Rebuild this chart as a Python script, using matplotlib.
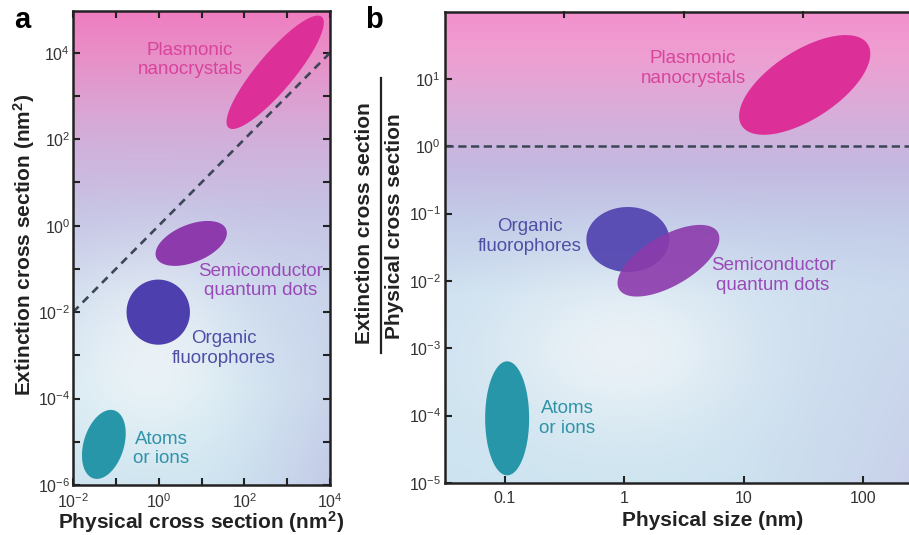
import numpy as np
import matplotlib
matplotlib.use('Agg')
import matplotlib.pyplot as plt
from matplotlib.lines import Line2D
from matplotlib.ticker import FixedLocator, FuncFormatter, NullFormatter

plt.rcParams['font.family'] = ['Liberation Sans', 'DejaVu Sans']
plt.rcParams['mathtext.fontset'] = 'custom'
plt.rcParams['mathtext.rm'] = 'Liberation Sans'
plt.rcParams['mathtext.it'] = 'Liberation Sans:italic'
plt.rcParams['mathtext.bf'] = 'Liberation Sans:bold'

# --- data -------------------------------------------------------------
names = ['Plasmonic\nnanocrystals', 'Semiconductor\nquantum dots',
         'Organic\nfluorophores', 'Atoms\nor ions']
fill_colors = ['#dd2f98', '#8c3aac', '#4e3fae', '#2696a8']
text_colors = ['#d8449c', '#9a4ab8', '#4f4fa5', '#3093a8']

# panel a: log10 centre (physical, extinction cross section), spread in decades
a_logx = [2.72, 0.76, -0.01, -1.28]
a_logy = [3.55, -0.41, -2.0, -5.06]
a_major = [1.69, 0.88, 0.76, 0.83]
a_minor = [0.43, 0.44, 0.74, 0.47]
a_tilt = [50, 22, 90, 73]
a_label_x = [5.4, 234, 33.5, 1.14]
a_label_y = [6900, 0.052, 1.45e-3, 6.8e-6]

# panel b: log10 centre (physical size, extinction / physical cross section)
b_logx = [1.51, 0.37, 0.03, -0.98]
b_logy = [0.91, -1.70, -1.385, -4.04]
b_major = [0.628, 0.477, 0.347, 0.477]
b_minor = [0.285, 0.21, 0.272, 0.184]
b_tilt = [33, 30, 0, 90]
b_label_x = [3.76, 17.6, 0.1626, 0.332]
b_label_y = [14.3, 0.0121, 0.0459, 9.0e-5]

a_xlim = (1e-2, 1e4)
a_ylim = (1e-6, 10 ** 4.98)
b_xlim = (10 ** -1.5, 10 ** 2.408)
b_ylim = (1e-5, 1e2)
b_xticks = [0.1, 1, 10, 100]
b_xticklabels = ['0.1', '1', '10', '100']
b_top_ticks = [10 ** -0.5, 10 ** 0.5, 10 ** 1.5]

W, H = 909, 535
fig = plt.figure(figsize=(W / 100, H / 100), dpi=100)
fig.patch.set_facecolor('white')

pos_a = [73 / W, (H - 485) / H, 257 / W, 474.5 / H]
pos_b = [445 / W, (H - 483) / H, 467 / W, 471.5 / H]


def backdrop(pos, stops, glow, side):
    ny, nx = 300, 300
    yy = np.linspace(0, 1, ny)[:, None] * np.ones((1, nx))
    xx = np.ones((ny, 1)) * np.linspace(0, 1, nx)[None, :]
    st = np.array([s[0] for s in stops])
    img = np.zeros((ny, nx, 3))
    for c in range(3):
        img[:, :, c] = np.interp(yy, st, [s[1][c] for s in stops])
    gx, gy, sx, sy, gs = glow
    w = gs * np.exp(-((xx - gx) ** 2 / sx ** 2 + (yy - gy) ** 2 / sy ** 2))
    img = img * (1 - w[..., None]) + 250 * w[..., None]
    tint, tw = side
    ws = tw * np.clip((xx - 0.5) / 0.5, 0, 1) ** 1.5 * np.clip((yy - 0.3) / 0.7, 0, 1)
    img = img * (1 - ws[..., None]) + np.array(tint)[None, None, :] * ws[..., None]
    bg = fig.add_axes(pos, zorder=0)
    bg.imshow(np.clip(img, 0, 255).astype(np.uint8), extent=[0, 1, 0, 1], aspect='auto',
              interpolation='bilinear')
    bg.axis('off')


backdrop(pos_a,
         [(0, (240, 125, 192)), (0.1, (232, 145, 200)), (0.27, (210, 175, 218)),
          (0.42, (198, 195, 228)), (0.6, (205, 220, 238)), (0.8, (212, 233, 242)),
          (1, (205, 228, 240))],
         (0.3, 0.73, 0.32, 0.2, 0.6), ((192, 192, 228), 0.7))
backdrop(pos_b,
         [(0, (243, 145, 205)), (0.1, (238, 160, 210)), (0.25, (210, 178, 220)),
          (0.33, (195, 185, 225)), (0.45, (195, 205, 232)), (0.6, (205, 225, 240)),
          (1, (205, 228, 240))],
         (0.38, 0.72, 0.28, 0.18, 0.65), ((198, 196, 230), 0.6))

ax_a = fig.add_axes(pos_a, zorder=1)
ax_b = fig.add_axes(pos_b, zorder=1)


def blob(ax, ratio, lx, ly, major, minor, tilt, color, alpha=1.0):
    t = np.linspace(0, 2 * np.pi, 240)
    th = np.radians(tilt)
    dx = major * np.cos(t) * np.cos(th) - minor * np.sin(t) * np.sin(th)
    dy = major * np.cos(t) * np.sin(th) + minor * np.sin(t) * np.cos(th)
    ax.fill(10 ** (lx + dx), 10 ** (ly + dy * ratio), color=color, alpha=alpha,
            lw=0, zorder=2)


def px_per_decade(pos, xlim, ylim):
    kx = pos[2] * W / np.log10(xlim[1] / xlim[0])
    ky = pos[3] * H / np.log10(ylim[1] / ylim[0])
    return kx / ky


def style(ax):
    ax.set_facecolor('none')
    ax.set_xscale('log')
    ax.set_yscale('log')
    for s in ax.spines.values():
        s.set_linewidth(1.8)
        s.set_color('#222222')
    ax.tick_params(which='both', direction='in', length=5, width=1.5, color='#222222',
                   labelsize=11.5, labelcolor='#333333')


# panel a
style(ax_a)
ratio_a = px_per_decade(pos_a, a_xlim, a_ylim)
for i in range(4):
    blob(ax_a, ratio_a, a_logx[i], a_logy[i], a_major[i], a_minor[i], a_tilt[i],
         fill_colors[i])
    ax_a.text(a_label_x[i], a_label_y[i], names[i], color=text_colors[i], fontsize=13.5,
              ha='center', va='center', linespacing=1.2, zorder=3)
ax_a.plot([1e-2, 1e4], [1e-2, 1e4], ls=(0, (3, 2.2)), lw=1.9, color='#3c4656', zorder=2)
ax_a.set_xlim(a_xlim)
ax_a.set_ylim(a_ylim)


def even_pow(v, p):
    k = int(round(np.log10(v)))
    return '$10^{%d}$' % k if k % 2 == 0 else ''


ax_a.xaxis.set_major_locator(FixedLocator([10.0 ** k for k in range(-2, 5)]))
ax_a.yaxis.set_major_locator(FixedLocator([10.0 ** k for k in range(-6, 5)]))
ax_a.xaxis.set_major_formatter(FuncFormatter(even_pow))
ax_a.yaxis.set_major_formatter(FuncFormatter(even_pow))
ax_a.xaxis.set_minor_locator(FixedLocator([]))
ax_a.yaxis.set_minor_locator(FixedLocator([]))
ax_a.tick_params(top=True, right=True)
ax_a.tick_params(axis='x', pad=5)
ax_a.tick_params(axis='y', pad=2)

# panel b
style(ax_b)
ratio_b = px_per_decade(pos_b, b_xlim, b_ylim)
for i in [0, 2, 1, 3]:
    blob(ax_b, ratio_b, b_logx[i], b_logy[i], b_major[i], b_minor[i], b_tilt[i],
         fill_colors[i], alpha=0.9 if i in (1, 2) else 1.0)
for i in range(4):
    ax_b.text(b_label_x[i], b_label_y[i], names[i], color=text_colors[i], fontsize=13.5,
              ha='center', va='center', linespacing=1.2, zorder=3)
ax_b.axhline(1, ls=(0, (3.3, 1.8)), lw=1.8, color='#3c4656', zorder=2)
ax_b.set_xlim(b_xlim)
ax_b.set_ylim(b_ylim)
ax_b.xaxis.set_major_locator(FixedLocator(b_xticks))
ax_b.xaxis.set_major_formatter(FuncFormatter(lambda v, p: b_xticklabels[p] if p is not None and p < len(b_xticklabels) else ''))
ax_b.yaxis.set_major_locator(FixedLocator([10.0 ** k for k in range(-5, 2)]))
ax_b.yaxis.set_major_formatter(FuncFormatter(lambda v, p: '$10^{%d}$' % int(round(np.log10(v)))))
ax_b.xaxis.set_minor_locator(FixedLocator([]))
ax_b.yaxis.set_minor_locator(FixedLocator([]))
ax_b.spines['right'].set_visible(False)
ax_b.tick_params(axis='x', pad=6)
ax_b.tick_params(axis='y', pad=3)
top_b = ax_b.secondary_xaxis('top')
top_b.set_xscale('log')
top_b.xaxis.set_major_locator(FixedLocator(b_top_ticks))
top_b.xaxis.set_major_formatter(NullFormatter())
top_b.xaxis.set_minor_locator(FixedLocator([]))
top_b.tick_params(direction='in', length=5, width=1.5, color='#222222')
top_b.spines['top'].set_visible(False)

# labels
lab = dict(fontsize=15, fontweight='bold', color='#222222', ha='center', va='center')
fig.text(201 / W, 1 - 522 / H, 'Physical cross section (nm$\\mathbf{^{2}}$)', **lab)
fig.text(24 / W, 1 - 245 / H, 'Extinction cross section (nm$\\mathbf{^{2}}$)', rotation=90, **lab)
fig.text(713 / W, 1 - 520 / H, 'Physical size (nm)', **lab)
fig.text(365 / W, 1 - 223 / H, 'Extinction cross section', rotation=90, **lab)
fig.text(395 / W, 1 - 226 / H, 'Physical cross section', rotation=90, **lab)
fig.add_artist(Line2D([381 / W, 381 / W], [1 - 78 / H, 1 - 353 / H], lw=1.6, color='#222222'))
fig.text(22 / W, 1 - 20 / H, 'a', fontsize=21, fontweight='bold', ha='center', va='center')
fig.text(374 / W, 1 - 20 / H, 'b', fontsize=21, fontweight='bold', ha='center', va='center')

fig.savefig('out.png', dpi=100)
